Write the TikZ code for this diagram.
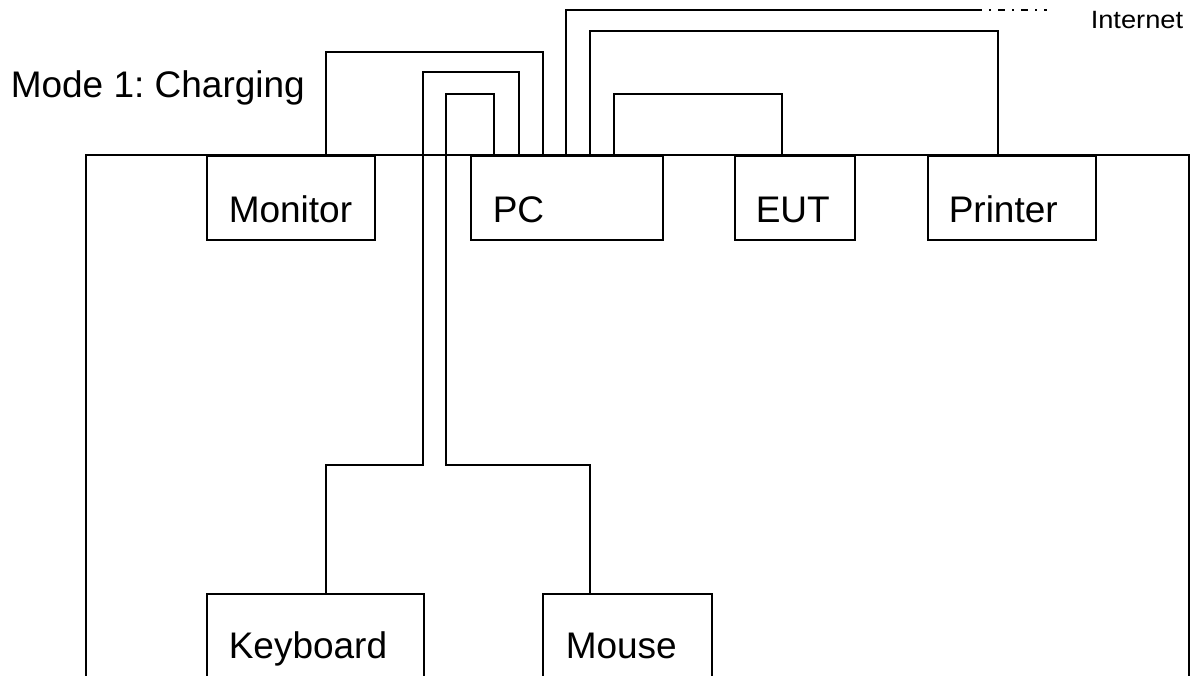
\documentclass[tikz,border=0pt]{standalone}
\usepackage{fontspec}
\setmainfont{Liberation Sans}
\frenchspacing
\begin{document}
\begin{tikzpicture}[x=1pt,y=-1pt,line width=1.5pt,
  box/.style={draw,rectangle,anchor=north west,inner sep=0pt},
  lbl/.style={anchor=base west,inner sep=0pt,font=\fontsize{37}{44}\selectfont},
  wire/.style={draw,line join=miter}]
\useasboundingbox (0,0) rectangle (1193,675);
% frame
\draw (86,700) |- (1189,155) -- (1189,700);
% boxes
\node[box,minimum width=168pt,minimum height=84pt] (mon) at (206,155) {};
\node[box,minimum width=192pt,minimum height=84pt] (pc) at (470,155) {};
\node[box,minimum width=120pt,minimum height=84pt] (eut) at (734,155) {};
\node[box,minimum width=168pt,minimum height=84pt] (prn) at (927,155) {};
\node[box,minimum width=217pt,minimum height=120pt] (kb) at (206,593) {};
\node[box,minimum width=169pt,minimum height=120pt] (ms) at (542,593) {};
% labels
\node[lbl] (monl) at (228,222) {Monitor};
\node[lbl] (pcl) at (492,222) {PC};
\node[lbl] (eutl) at (755,222) {EUT};
\node[lbl] (prnl) at (948,222) {Printer};
\node[lbl] (kbl) at (228,658) {Keyboard};
\node[lbl] (msl) at (565,658) {Mouse};
\node[lbl] (mode) at (10,97) {Mode 1: Charging};
\node[anchor=base west,inner sep=0pt,font=\fontsize{25}{30}\selectfont] (inet) at (1090,28) {\scalebox{1.09}[1]{Internet}};
% connectors
\draw[wire] ([xshift=120pt]mon.north west) |- ([xshift=73pt,yshift=103pt]pc.north west) -- ([xshift=73pt]pc.north west);
\draw[wire] ([xshift=120pt]kb.north west) |- (423,465) |- ([xshift=49pt,yshift=83pt]pc.north west) -- ([xshift=49pt]pc.north west);
\draw[wire] ([xshift=48pt]ms.north west) |- (446,465) |- ([xshift=24pt,yshift=61pt]pc.north west) -- ([xshift=24pt]pc.north west);
\coordinate (inetend) at (975,10);
\coordinate (inetdash) at (1047,10);
\draw[wire] ([xshift=96pt]pc.north west) |- (inetend);
\draw[line width=1.2pt,dash pattern=on 7pt off 7pt on 2pt off 7pt] (inetend) -- (inetdash);
\draw[wire] ([xshift=120pt]pc.north west) |- ([xshift=71pt,yshift=124pt]prn.north west) -- ([xshift=71pt]prn.north west);
\draw[wire] ([xshift=144pt]pc.north west) |- ([xshift=48pt,yshift=61pt]eut.north west) -- ([xshift=48pt]eut.north west);
\end{tikzpicture}
\end{document}
